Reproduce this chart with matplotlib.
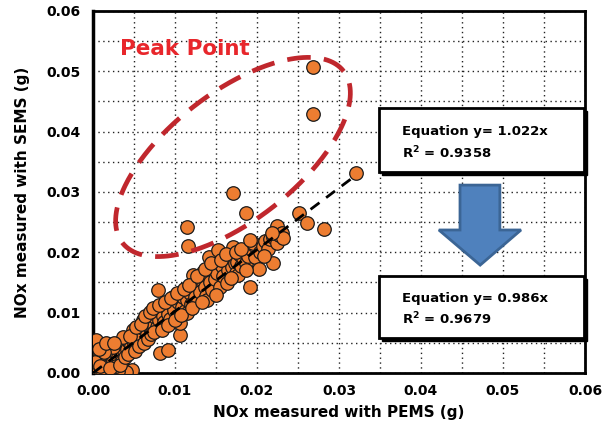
import numpy as np
import matplotlib
matplotlib.use("Agg")
import matplotlib.pyplot as plt
from matplotlib.patches import Rectangle, Polygon

# NOx per segment: PEMS (x) vs SEMS (y), in grams
pems = [0.0003, 0.0006, 0.0010, 0.0012, 0.0015, 0.0018, 0.0020, 0.0022, 0.0025, 0.0027,
        0.0030, 0.0032, 0.0034, 0.0036, 0.0038, 0.0040, 0.0042, 0.0044, 0.0046, 0.0048,
        0.0050, 0.0005, 0.0009, 0.0002, 0.0047, 0.0040, 0.0030, 0.0020, 0.0012, 0.0024,
        0.0037, 0.0049, 0.0014, 0.0028, 0.0035, 0.0008,
        0.0052, 0.0055, 0.0057, 0.0060, 0.0061, 0.0063, 0.0066, 0.0068, 0.0070, 0.0072,
        0.0074, 0.0076, 0.0078, 0.0078, 0.0080, 0.0082, 0.0092, 0.0083, 0.0085, 0.0087,
        0.0090, 0.0092, 0.0094, 0.0096, 0.0098, 0.0099, 0.0079, 0.0106, 0.0106, 0.0102,
        0.0104, 0.0108, 0.0110, 0.0112, 0.0115, 0.0115, 0.0118, 0.0120, 0.0122, 0.0122,
        0.0124, 0.0126, 0.0128, 0.0130, 0.0132, 0.0134, 0.0136, 0.0138, 0.0139, 0.0141,
        0.0143, 0.0145, 0.0147, 0.0149, 0.0141,
        0.0151, 0.0153, 0.0155, 0.0157, 0.0159, 0.0161, 0.0163, 0.0165, 0.0167, 0.0169,
        0.0171, 0.0173, 0.0175, 0.0176, 0.0177, 0.0179, 0.0181, 0.0183, 0.0185, 0.0187,
        0.0189, 0.0191, 0.0193, 0.0196, 0.0198, 0.0202, 0.0195,
        0.0204, 0.0207, 0.0210, 0.0213, 0.0216, 0.0220, 0.0220, 0.0224, 0.0224, 0.0227,
        0.0230, 0.0232,
        0.0001, 0.0004, 0.0007, 0.0016, 0.0021, 0.0026, 0.0033, 0.0039, 0.0043, 0.0045,
        0.0051, 0.0053, 0.0056, 0.0059, 0.0062, 0.0064, 0.0067, 0.0069, 0.0071, 0.0073,
        0.0075, 0.0081, 0.0084, 0.0088, 0.0091, 0.0095, 0.0100, 0.0103, 0.0107, 0.0111,
        0.0117, 0.0121, 0.0127, 0.0133, 0.0137, 0.0144, 0.0150, 0.0156, 0.0162, 0.0168,
        0.0174, 0.0180, 0.0186, 0.0192, 0.0208, 0.0218,
        0.0115, 0.0116, 0.0171, 0.0187, 0.0251, 0.0261, 0.0282, 0.0268, 0.0268, 0.0321]
sems = [0.0002, 0.0008, 0.0004, 0.0015, 0.0010, 0.0022, 0.0016, 0.0028, 0.0020, 0.0034,
        0.0026, 0.0038, 0.0031, 0.0044, 0.0036, 0.0048, 0.0040, 0.0052, 0.0045, 0.0058,
        0.0049, 0.0027, 0.0030, 0.0018, 0.0005, 0.0002, 0.0004, 0.0003, 0.0001, 0.0043,
        0.0060, 0.0071, 0.0035, 0.0012, 0.0020, 0.0012,
        0.0062, 0.0055, 0.0068, 0.0060, 0.0088, 0.0072, 0.0066, 0.0080, 0.0074, 0.0086,
        0.0078, 0.0092, 0.0076, 0.0099, 0.0088, 0.0033, 0.0038, 0.0104, 0.0094, 0.0084,
        0.0108, 0.0098, 0.0090, 0.0115, 0.0126, 0.0104, 0.0138, 0.0063, 0.0083, 0.0094,
        0.0118, 0.0110, 0.0126, 0.0102, 0.0121, 0.0099, 0.0132, 0.0114, 0.0163, 0.0140,
        0.0126, 0.0148, 0.0120, 0.0134, 0.0155, 0.0168, 0.0142, 0.0128, 0.0121, 0.0160,
        0.0150, 0.0138, 0.0172, 0.0156, 0.0193,
        0.0165, 0.0204, 0.0143, 0.0178, 0.0160, 0.0186, 0.0149, 0.0170, 0.0192, 0.0176,
        0.0209, 0.0183, 0.0166, 0.0184, 0.0163, 0.0196, 0.0178, 0.0190, 0.0200, 0.0182,
        0.0194, 0.0143, 0.0205, 0.0212, 0.0193, 0.0172, 0.0215,
        0.0200, 0.0210, 0.0218, 0.0206, 0.0222, 0.0183, 0.0226, 0.0243, 0.0216, 0.0228,
        0.0232, 0.0224,
        0.0045, 0.0055, 0.0040, 0.0050, 0.0008, 0.0050, 0.0014, 0.0027, 0.0032, 0.0062,
        0.0036, 0.0076, 0.0044, 0.0082, 0.0050, 0.0094, 0.0057, 0.0101, 0.0064, 0.0108,
        0.0068, 0.0112, 0.0072, 0.0117, 0.0080, 0.0124, 0.0088, 0.0132, 0.0096, 0.0140,
        0.0146, 0.0108, 0.0160, 0.0118, 0.0172, 0.0182, 0.0130, 0.0188, 0.0198, 0.0158,
        0.0200, 0.0206, 0.0170, 0.0220, 0.0194, 0.0232,
        0.0242, 0.0211, 0.0298, 0.0265, 0.0265, 0.0249, 0.0239, 0.0507, 0.0430, 0.0332]

slope_all = 1.022
r2_all = 0.9358
slope_clean = 0.986
r2_clean = 0.9679
fit_end = 0.032

ticks = [0.00, 0.01, 0.02, 0.03, 0.04, 0.05, 0.06]
minor = [0.005, 0.015, 0.025, 0.035, 0.045, 0.055]

fig = plt.figure(figsize=(6.11, 4.34), dpi=100)
ax = fig.add_axes([0.1522, 0.1406, 0.8052, 0.8341])

ax.set_xlim(0, 0.06)
ax.set_ylim(0, 0.06)
ax.set_xticks(ticks)
ax.set_yticks(ticks)
ax.set_xticks(minor, minor=True)
ax.set_yticks(minor, minor=True)
ax.set_xticklabels(["%.2f" % t for t in ticks], fontweight="bold", fontsize=10)
ax.set_yticklabels(["%.2f" % t for t in ticks], fontweight="bold", fontsize=10)
ax.tick_params(which="both", length=0)
ax.tick_params(axis="x", pad=8)
ax.tick_params(axis="y", pad=9)
ax.grid(True, which="both", color="#222222", linestyle=(0, (1, 2.5)), linewidth=1)
ax.set_axisbelow(True)
for s in ax.spines.values():
    s.set_linewidth(2)
ax.spines["left"].set_linewidth(2.5)

ax.scatter(pems, sems, s=95, c="#ED7D31", edgecolors="#1a1a1a", linewidths=0.9, zorder=3)

# trend line
xs = np.array([0, fit_end])
ax.plot(xs, slope_all * xs, color="black", linestyle=(0, (4, 3)), linewidth=2, zorder=4)

ax.set_xlabel("NOx measured with PEMS (g)", fontweight="bold", fontsize=11, labelpad=5)
ax.set_ylabel("NOx measured with SEMS (g)", fontweight="bold", fontsize=11, labelpad=12)

# "Peak Point" ellipse, built in pixels then mapped to axes fraction
ax_w, ax_h = 492.0, 362.0
cx, cy = 140.0, 216.0
a, b = 140.0, 64.0
ang = np.deg2rad(37.8)
t = np.linspace(0, 2 * np.pi, 300)
ex = cx + a * np.cos(t) * np.cos(ang) - b * np.sin(t) * np.sin(ang)
ey = cy + a * np.cos(t) * np.sin(ang) + b * np.sin(t) * np.cos(ang)
ax.plot(ex / ax_w, ey / ax_h, transform=ax.transAxes, color="#C0272D",
        linestyle=(0, (5, 2.8)), linewidth=3.4, zorder=5, clip_on=False)
ax.text(0.055, 0.895, "Peak Point", transform=ax.transAxes, color="#E8262B",
        fontsize=15.5, fontweight="bold", va="center", ha="left", zorder=6)

# equation boxes
def eq_box(y0, y1, slope, r2):
    x0, x1 = 0.5813, 0.998
    ax.add_patch(Rectangle((x0 + 0.006, y0 - 0.008), x1 - x0, y1 - y0, transform=ax.transAxes,
                           facecolor="black", edgecolor="black", zorder=6, clip_on=False))
    ax.add_patch(Rectangle((x0, y0), x1 - x0, y1 - y0, transform=ax.transAxes,
                           facecolor="white", edgecolor="black", linewidth=2, zorder=7,
                           clip_on=False))
    h = y1 - y0
    ax.text(x0 + 0.047, y0 + h * 0.63, "Equation y= %.3fx" % slope, transform=ax.transAxes,
            fontsize=9.5, fontweight="bold", va="center", zorder=8)
    ax.text(x0 + 0.047, y0 + h * 0.30, "R$^{\\mathbf{2}}$ = %.4f" % r2, transform=ax.transAxes,
            fontsize=9.5, fontweight="bold", va="center", zorder=8)

eq_box(0.555, 0.732, slope_all, r2_all)
eq_box(0.0967, 0.268, slope_clean, r2_clean)

# blue down arrow
arrow = [(0.746, 0.519), (0.827, 0.519), (0.827, 0.395), (0.870, 0.395),
         (0.787, 0.298), (0.703, 0.395), (0.746, 0.395)]
ax.add_patch(Polygon(arrow, closed=True, transform=ax.transAxes, facecolor="#4F81BD",
                     edgecolor="#3B6595", linewidth=2, zorder=6))

fig.savefig("out.png", dpi=100)
